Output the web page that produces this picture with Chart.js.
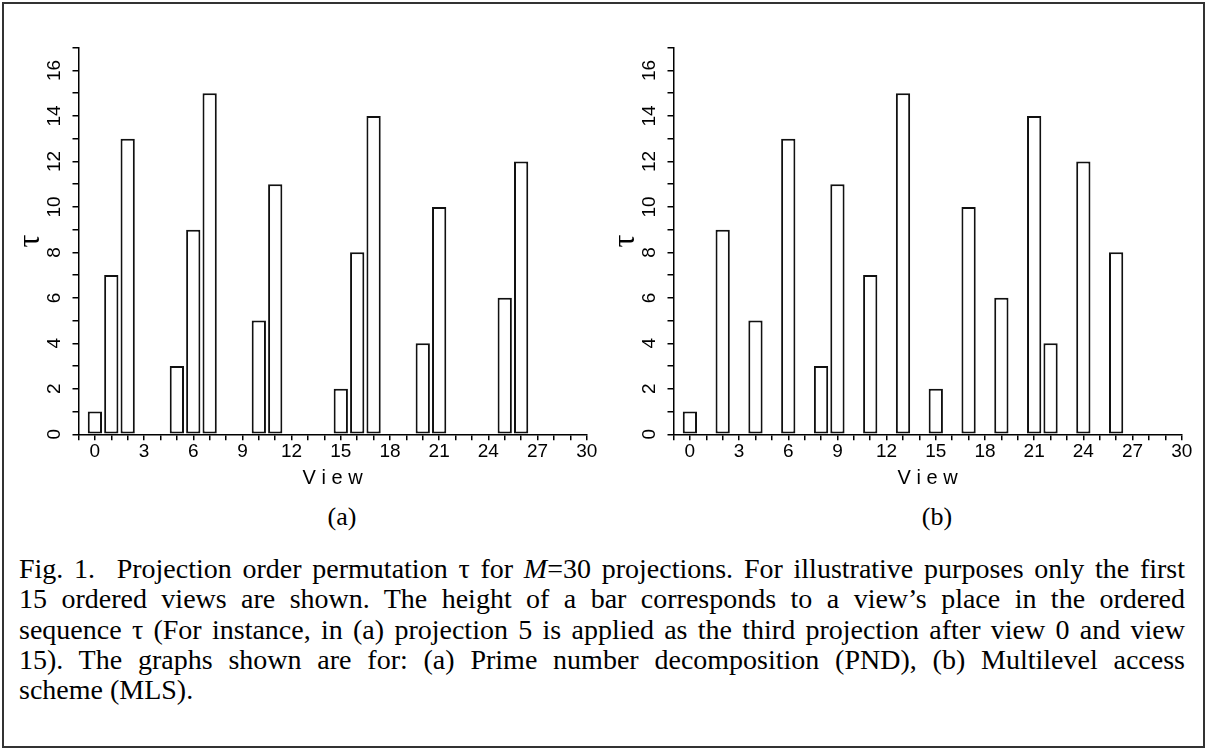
<!DOCTYPE html>
<html>
<head>
<meta charset="utf-8">
<script src="https://cdn.jsdelivr.net/npm/chart.js@4"></script>
<style>
body { margin: 0; background: #fff; }
#page { position: relative; width: 1205px; height: 748px; background: #fff; overflow: hidden; }
#frame { position: absolute; left: 2px; top: 2px; width: 1199px; height: 742px; border: 2px solid #333; }
canvas { position: absolute; top: 0; }
.sub { position: absolute; top: 502px; width: 60px; text-align: center; font: 26px 'Liberation Serif', serif; color: #000; }
#caption { position: absolute; left: 19px; top: 554px; width: 1166px; font: 28px 'Liberation Serif', serif; color: #000; }
#caption div { line-height: 30.3px; height: 30.3px; white-space: nowrap; }
#caption .j { text-align: justify; text-align-last: justify; white-space: normal; }
</style>
</head>
<body>
<div id="page">
  <div id="frame"></div>
  <canvas id="chartA" width="600" height="500" style="left:0px"></canvas>
  <canvas id="chartB" width="600" height="500" style="left:595px"></canvas>
  <div class="sub" style="left:312px">(a)</div>
  <div class="sub" style="left:907px">(b)</div>
  <div id="caption">
    <div class="j">Fig. 1.&nbsp; Projection order permutation τ for <i>M</i>=30 projections. For illustrative purposes only the first</div>
    <div class="j">15 ordered views are shown. The height of a bar corresponds to a view’s place in the ordered</div>
    <div class="j">sequence τ (For instance, in (a) projection 5 is applied as the third projection after view 0 and view</div>
    <div class="j">15). The graphs shown are for: (a) Prime number decomposition (PND), (b) Multilevel access</div>
    <div>scheme (MLS).</div>
  </div>
</div>
<script>
// views 0..29, height = place of the view in the ordered sequence (0 = not among first 15)
const views = [0, 1, 2, 3, 4, 5, 6, 7, 8, 9, 10, 11, 12, 13, 14, 15, 16, 17, 18, 19, 20, 21, 22, 23, 24, 25, 26, 27, 28, 29];
const pndOrder = [1, 7, 13, 0, 0, 3, 9, 15, 0, 0, 5, 11, 0, 0, 0, 2, 8, 14, 0, 0, 4, 10, 0, 0, 0, 6, 12, 0, 0, 0];
const mlsOrder = [1, 0, 9, 0, 5, 0, 13, 0, 3, 11, 0, 7, 0, 15, 0, 2, 0, 10, 0, 6, 0, 14, 4, 0, 12, 0, 8, 0, 0, 0];
const xTickLabels = [0, 3, 6, 9, 12, 15, 18, 21, 24, 27, 30];
const yTickLabels = [0, 2, 4, 6, 8, 10, 12, 14, 16];

Chart.defaults.color = '#000';
Chart.defaults.font.family = "'Liberation Sans', Arial, sans-serif";

const tickFont = { family: "'Liberation Sans', Arial, sans-serif", size: 19 };

function makeChart(canvasId, values) {
const ctx = document.getElementById(canvasId);
return new Chart(ctx, {
type: 'bar',
data: {
labels: views,
datasets: [{
data: values,
backgroundColor: '#fff',
borderColor: '#111',
borderWidth: 2,
borderSkipped: false,
barPercentage: 0.87,
categoryPercentage: 1
}]
},
options: {
responsive: false,
animation: false,
events: [],
layout: { padding: { left: 0, top: 47.7, right: 13.3, bottom: 5.7 } },
plugins: { legend: { display: false }, tooltip: { enabled: false } },
scales: {
x: {
type: 'linear',
min: -1,
max: 30,
offset: false,
z: 1,
ticks: {
stepSize: 1,
autoSkip: false,
maxRotation: 0,
padding: 0,
font: tickFont,
callback: (v) => (xTickLabels.includes(v) ? String(v) : '')
},
grid: { offset: false, drawOnChartArea: false, drawTicks: true, tickLength: 6, color: '#000', lineWidth: 1.5 },
border: { display: true, color: '#000', width: 1.5 },
title: {
display: true,
text: 'V i e w',
font: { family: "'Liberation Sans', Arial, sans-serif", size: 20 },
padding: { top: 0, bottom: 4 }
},
afterFit: (s) => { s.height = 60; }
},
y: {
type: 'linear',
min: 0,
max: 17,
z: 1,
ticks: {
stepSize: 1,
autoSkip: false,
minRotation: 90,
maxRotation: 90,
crossAlign: 'center',
padding: 7,
font: tickFont,
callback: (v) => (yTickLabels.includes(v) ? String(v) : '')
},
grid: { drawOnChartArea: false, drawTicks: true, tickLength: 6, color: '#000', lineWidth: 1.5 },
border: { display: true, color: '#000', width: 1.5 },
title: {
display: true,
text: 'τ',
font: { family: "'Liberation Serif', serif", size: 32 },
padding: { top: 11, bottom: 0 }
},
afterFit: (s) => { s.width = 78.5; }
}
}
}
});
}

makeChart('chartA', pndOrder);
makeChart('chartB', mlsOrder);
</script>
</body>
</html>
